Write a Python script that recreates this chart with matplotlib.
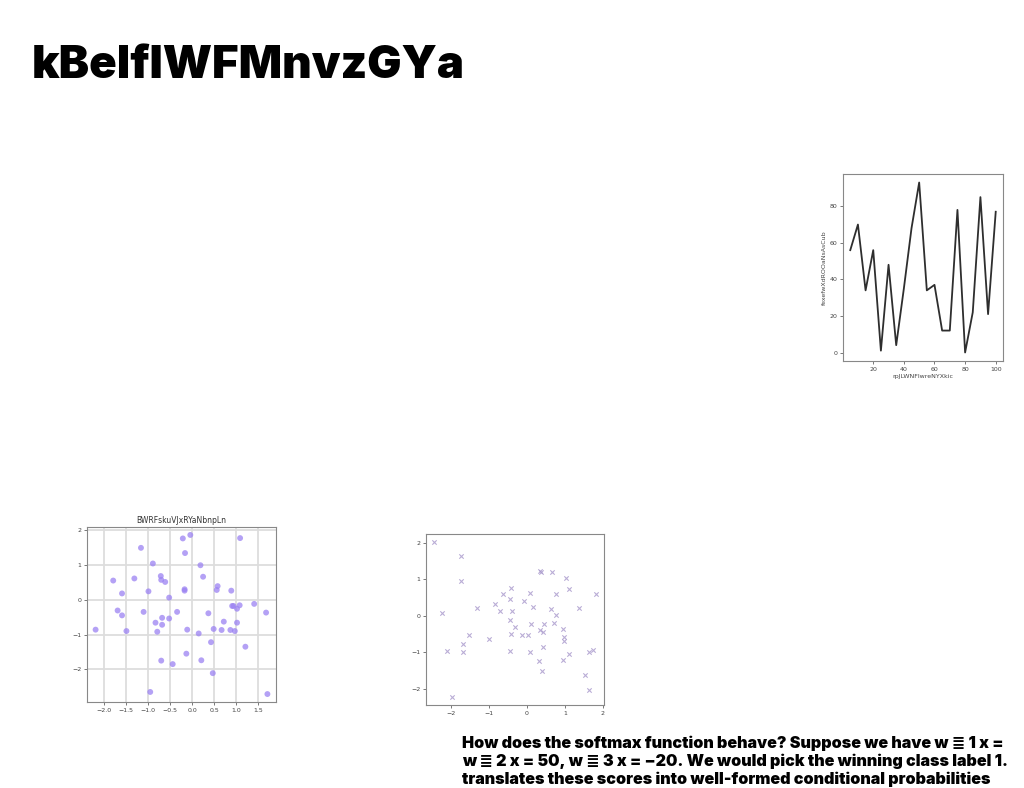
import matplotlib
matplotlib.use("Agg")
import matplotlib.pyplot as plt

# page text
title = "kBelfIWFMnvzGYa"
body_lines = [
    "How does the softmax function behave? Suppose we have w \u2263 1 x =",
    "w \u2263 2 x = 50, w \u2263 3 x = \u221220. We would pick the winning class label 1.",
    "translates these scores into well-formed conditional probabilities",
]

# line chart
line_x = [5, 10, 15, 20, 25, 30, 35, 40, 45, 50, 55, 60, 65, 70, 75, 80, 85, 90, 95, 100]
line_y = [56, 70, 34, 56, 1, 48, 4, 35, 68, 93, 34, 37, 12, 12, 78, 0, 22, 85, 21, 77]
line_xlabel = "rpJLWNFlwreNYXkic"
line_ylabel = "fexefwXdROOaNsAsCub"

# scatter with circles
dots_title = "BWRFskuVJxRYaNbnpLn"
dots_x = [-2.19, -1.79, -1.69, -1.59, -1.59, -1.49, -1.31, -1.16, -1.10, -0.99,
          -0.89, -0.95, -0.83, -0.79, -0.71, -0.70, -0.61, -0.68, -0.68, -0.70,
          -0.52, -0.52, -0.44, -0.34, -0.21, -0.04, -0.16, -0.17, -0.17, -0.11,
          -0.13, 0.19, 0.25, 0.15, 0.21, 0.37, 0.43, 0.47, 0.49, 0.58,
          0.56, 0.72, 0.67, 0.89, 0.87, 0.91, 0.94, 0.97, 1.02, 1.02,
          1.09, 1.08, 1.21, 1.41, 1.68, 1.71]
dots_y = [-0.86, 0.55, -0.31, 0.18, -0.45, -0.90, 0.61, 1.49, -0.35, 0.24,
          1.04, -2.65, -0.66, -0.92, 0.68, 0.57, 0.51, -0.52, -0.72, -1.75,
          0.06, -0.54, -1.85, -0.35, 1.76, 1.86, 1.34, 0.30, 0.26, -0.86,
          -1.55, 0.99, 0.66, -0.97, -1.74, -0.39, -1.22, -2.11, -0.84, 0.39,
          0.28, -0.63, -0.87, 0.26, -0.87, -0.18, -0.18, -0.90, -0.26, -0.66,
          1.77, -0.16, -1.35, -0.12, -0.37, -2.71]

# scatter with crosses
cross_x = [-2.45, -1.75, -1.73, -2.24, -2.11, -1.98, -1.69, -1.68, -1.53, -1.31,
           -1.00, -0.85, -0.72, -0.62, -0.43, -0.44, -0.40, -0.44, -0.32, -0.41,
           -0.46, -0.13, -0.07, 0.03, 0.08, 0.12, 0.07, 0.17, 0.35, 0.36,
           0.35, 0.42, 0.44, 0.42, 0.33, 0.39, 0.65, 0.63, 0.76, 0.77,
           0.72, 0.95, 0.97, 0.97, 0.96, 1.04, 1.10, 1.10, 1.38, 1.53,
           1.64, 1.65, 1.75, 1.82]
cross_y = [2.02, 1.64, 0.96, 0.07, -0.96, -2.23, -0.77, -1.00, -0.53, 0.22,
           -0.65, 0.31, 0.13, 0.59, 0.76, 0.46, 0.13, -0.12, -0.32, -0.49,
           -0.96, -0.54, 0.40, -0.54, 0.62, -0.23, -0.99, 0.25, 1.23, 1.19,
           -0.39, -0.46, -0.23, -0.86, -1.24, -1.51, 1.19, 0.17, 0.59, 0.03,
           -0.20, -0.36, -0.58, -0.68, -1.20, 1.04, 0.72, -1.04, 0.22, -1.62,
           -0.99, -2.02, -0.93, 0.58]

fig = plt.figure(figsize=(10.24, 7.88), dpi=100)
heavy = ["Inter", "DejaVu Sans"]

fig.text(32 / 1024, 1 - 78 / 788, title, family=heavy, fontweight=900,
         fontsize=32.8, color="black", va="baseline", ha="left")

for i, line in enumerate(body_lines):
    fig.text(462 / 1024, 1 - (748 + i * 18) / 788, line, family=heavy,
             fontweight=900, fontsize=11.6, color="black", va="baseline", ha="left")

tick_size = 4.5

# line chart, top right
ax1 = fig.add_axes([843 / 1024, 1 - 361 / 788, 160 / 1024, 187 / 788])
ax1.plot(line_x, line_y, color="#2e2e2e", linewidth=1.3)
ax1.set_xlabel(line_xlabel, fontsize=tick_size, color="#444444", labelpad=2)
ax1.set_ylabel(line_ylabel, fontsize=tick_size, color="#444444", labelpad=2)
ax1.set_xticks([20, 40, 60, 80, 100])
ax1.set_yticks([0, 20, 40, 60, 80])

# circle scatter, bottom left
ax2 = fig.add_axes([87 / 1024, 1 - 702 / 788, 189 / 1024, 175 / 788])
ax2.grid(True, color="#dddddd", linewidth=1.3)
ax2.set_axisbelow(True)
ax2.scatter(dots_x, dots_y, s=18, color="#9b82f2", alpha=0.75, edgecolors="none")
ax2.set_title(dots_title, fontsize=5.5, color="#333333", pad=3)
ax2.set_xticks([-2.0, -1.5, -1.0, -0.5, 0.0, 0.5, 1.0, 1.5])
ax2.set_yticks([-2, -1, 0, 1, 2])

# cross scatter, bottom middle
ax3 = fig.add_axes([426 / 1024, 1 - 705 / 788, 178 / 1024, 171 / 788])
ax3.scatter(cross_x, cross_y, s=10, marker="x", color="#a898cc", alpha=0.8, linewidths=0.8)
ax3.set_xticks([-2, -1, 0, 1, 2])
ax3.set_yticks([-2, -1, 0, 1, 2])

for ax in (ax1, ax2, ax3):
    ax.tick_params(labelsize=tick_size, colors="#444444", length=2, width=0.5, pad=2)
    for sp in ax.spines.values():
        sp.set_color("#888888")
        sp.set_linewidth(0.8)

fig.savefig("out.png", dpi=100)
